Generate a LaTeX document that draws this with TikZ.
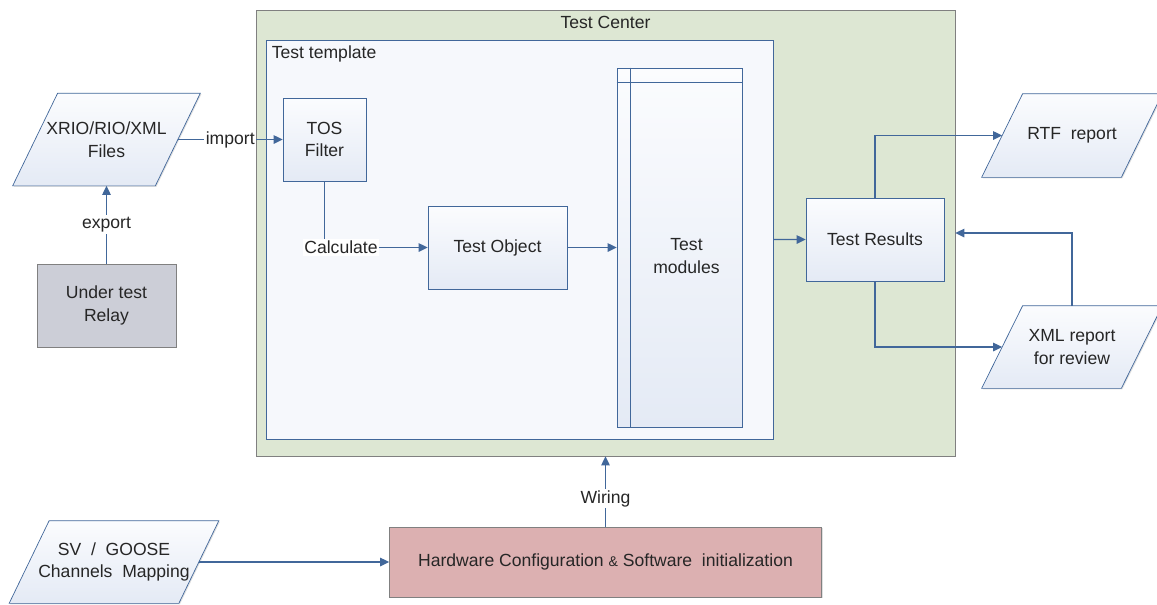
\documentclass[tikz,border=0pt]{standalone}
\usepackage{fontspec}
\setmainfont{Liberation Sans}
\usetikzlibrary{positioning,arrows.meta,shadows,backgrounds}

\definecolor{centergreen}{RGB}{221,231,211}
\definecolor{templatefill}{RGB}{246,248,252}
\definecolor{boxtop}{RGB}{251,252,254}
\definecolor{boxbottom}{RGB}{228,234,245}
\definecolor{lineblue}{RGB}{65,103,154}
\definecolor{relaygray}{RGB}{204,206,215}
\definecolor{hwpink}{RGB}{220,176,177}
\definecolor{framegray}{RGB}{128,128,128}
\definecolor{textgray}{RGB}{38,38,38}

\tikzstyle{process} = [rectangle, minimum width=2.78cm, minimum height=1.66cm, text centered, align=center, draw=lineblue, top color=boxtop, bottom color=boxbottom, drop shadow={shadow xshift=0.6pt, shadow yshift=-0.6pt, opacity=0.25}]
\tikzstyle{iobox} = [rectangle, minimum width=2.78cm, minimum height=1.66cm, align=center]
\tikzstyle{iofill} = [draw=lineblue, top color=boxtop, bottom color=boxbottom, drop shadow={shadow xshift=0.6pt, shadow yshift=-0.6pt, opacity=0.25}]
\tikzstyle{frame} = [rectangle, draw=framegray, drop shadow={shadow xshift=0.6pt, shadow yshift=-0.6pt, opacity=0.25}]
\tikzstyle{arrow} = [draw=lineblue, line width=0.7pt, -{Triangle[length=1.8mm, width=1.7mm]}]
\tikzstyle{line} = [draw=lineblue, line width=0.7pt]
\tikzstyle{tag} = [fill=white, inner sep=1pt]

% parallelogram round a node: name, half of the slant
\newcommand{\ioframe}[2]{\draw [iofill] ([xshift=#2]#1.north west) -- ([xshift=#2]#1.north east) -- ([xshift=-#2]#1.south east) -- ([xshift=-#2]#1.south west) -- cycle;}

\begin{document}
\begin{tikzpicture}[node distance = 2cm, every node/.style={font=\fontsize{10}{13}\selectfont, text=textgray}]
	\useasboundingbox (0,0) rectangle (23.14,-12.08);
	% Containers
	\node [frame, fill=centergreen, minimum width=13.98cm, minimum height=8.92cm, label={[below]north:Test Center}] (TestCenter) at (12.11,-4.66) {};
	\node [rectangle, draw=lineblue, fill=templatefill, minimum width=10.14cm, minimum height=7.98cm, label={[anchor=north west]north west:Test template}] (TestTemplate) at (10.39,-4.79) {};
	% Place nodes
	\node [process, minimum width=1.66cm] (TOSFilter) at (6.49,-2.79) {TOS\\Filter};
	\node [process, right of=TOSFilter, xshift=1.46cm, yshift=-2.16cm] (TestObject) {Test Object};
	\node [process, right of=TestObject, xshift=1.64cm, minimum width=2.5cm, minimum height=7.18cm, label={[xshift=0.14cm, yshift=-0.17cm, align=center]center:Test\\modules}] (TestModules) {};
	\node [process, right of=TestModules, xshift=1.91cm, yshift=0.16cm, minimum width=2.76cm] (TestResults) {Test Results};
	\node [iobox, right of=TestResults, xshift=1.94cm, yshift=2.08cm] (RTFReport) {RTF\ \ report};
	\node [iobox, below of=RTFReport, yshift=-2.23cm, minimum height=1.64cm] (XMLReport) {XML report\\for review};
	\node [iobox, left of=TOSFilter, xshift=-2.36cm, minimum width=2.84cm, minimum height=1.84cm] (XRIOFiles) {XRIO/RIO/XML\\Files};
	\node [process, below of=XRIOFiles, yshift=-1.32cm, draw=framegray, top color=relaygray, bottom color=relaygray] (Relay) {Under test\\Relay};
	\node [process, below of=TestCenter, yshift=-4.58cm, minimum width=8.64cm, minimum height=1.4cm, draw=framegray, top color=hwpink, bottom color=hwpink] (Hardware) {Hardware Configuration {\footnotesize\&} Software\ \ initialization};
	\node [iobox, left of=Hardware, xshift=-7.83cm, minimum width=3.38cm, minimum height=1.64cm] (SVGoose) {SV\ \ /\ \ GOOSE\\Channels\ \ Mapping};
	% Parallelograms
	\begin{scope}[on background layer]
		\ioframe{XRIOFiles}{0.45cm}
		\ioframe{RTFReport}{0.41cm}
		\ioframe{XMLReport}{0.41cm}
		\ioframe{SVGoose}{0.4cm}
	\end{scope}
	% Module strips
	\draw [line] ([xshift=0.28cm]TestModules.north west) -- ([xshift=0.28cm]TestModules.south west);
	\draw [line] ([yshift=-0.3cm]TestModules.north west) -- ([yshift=-0.3cm]TestModules.north east);
	% Draw edges
	\draw [arrow] (XRIOFiles.east) -- node [tag] {import} (TOSFilter.west);
	\draw [arrow] (Relay.north) -- node [tag] {export} (XRIOFiles.south);
	\draw [arrow] (TOSFilter.south) |- node [tag, pos=0.58] {Calculate} (TestObject.west);
	\draw [arrow] (TestObject.east) -- (TestModules.west);
	\draw [arrow] (TestTemplate.east) -- (TestResults.west);
	\draw [arrow] (TestResults.north) |- (RTFReport.west);
	\draw [arrow] (TestResults.south) |- (XMLReport.west);
	\draw [arrow] (XMLReport.north) |- (TestCenter.east);
	\draw [arrow] (Hardware.north) -- node [tag, pos=0.4] {Wiring} (TestCenter.south);
	\draw [arrow] (SVGoose.east) -- (Hardware.west);
\end{tikzpicture}
\end{document}
